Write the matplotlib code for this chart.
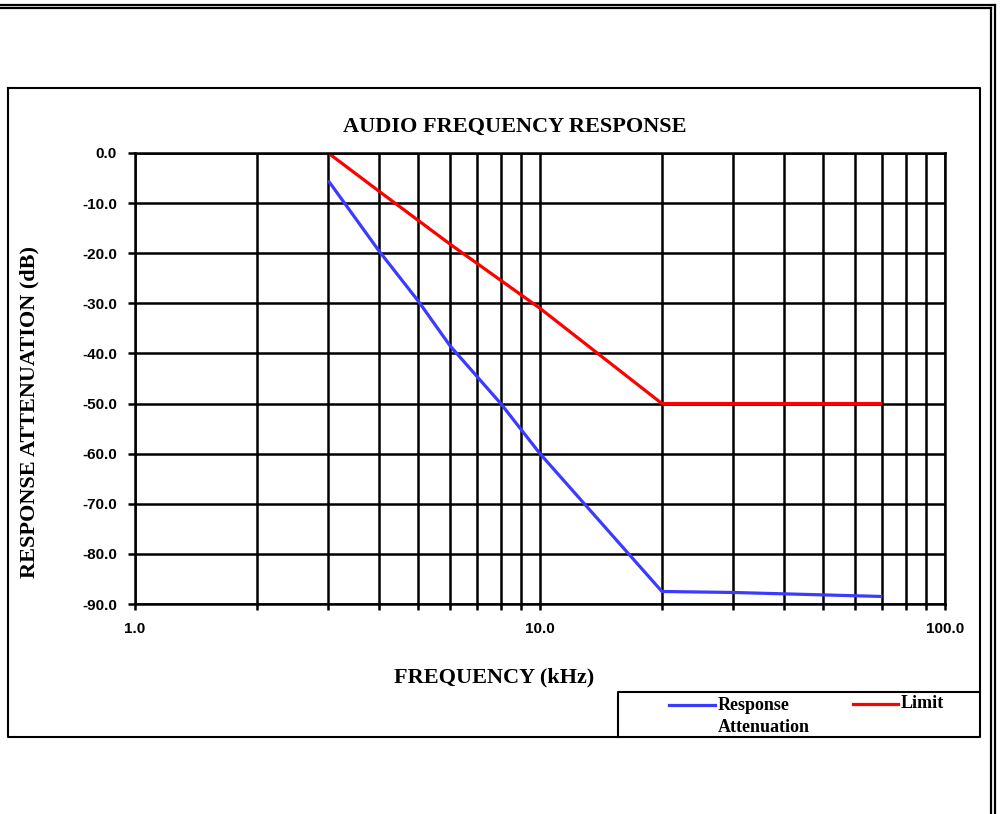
import matplotlib
matplotlib.use("Agg")
import matplotlib.pyplot as plt
from matplotlib.lines import Line2D
from matplotlib.ticker import FixedLocator, FixedFormatter, NullFormatter
from matplotlib import font_manager

# values
freq_response = [3, 4, 5, 6, 8, 10, 20, 30, 70]
atten_response = [-5.5, -19.5, -29.5, -38.5, -50.0, -60.0, -87.5, -87.7, -88.5]
freq_limit = [3, 4, 6, 10, 20, 70]
atten_limit = [0.0, -7.6, -18.2, -31.0, -50.0, -50.0]

y_ticks = [0, -10, -20, -30, -40, -50, -60, -70, -80, -90]
x_major = [1, 10, 100]
x_major_labels = ["1.0", "10.0", "100.0"]
x_minor = [2, 3, 4, 5, 6, 7, 8, 9, 20, 30, 40, 50, 60, 70, 80, 90]

W, H = 1001, 814
plt.rcParams['axes.unicode_minus'] = False

names = {f.name for f in font_manager.fontManager.ttflist}
tick_font = ["Liberation Sans Narrow", "Liberation Sans"] if "Liberation Sans Narrow" in names else ["Liberation Sans"]
serif = ["Liberation Serif", "DejaVu Serif"]


def fx(x):
    return x / W


def fy(y):
    return 1 - y / H


fig = plt.figure(figsize=(W / 100, H / 100), dpi=100)

# page double border (top and right)
for yy, xr in [(5, 995), (8, 991)]:
    fig.add_artist(Line2D([0, fx(xr)], [fy(yy), fy(yy)], color="black", lw=1.6))
for xx, yt in [(995, 5), (991, 8)]:
    fig.add_artist(Line2D([fx(xx), fx(xx)], [fy(yt), 0], color="black", lw=1.6))

# chart box
fig.add_artist(Line2D([fx(8), fx(980), fx(980), fx(8), fx(8)],
                      [fy(88), fy(88), fy(737), fy(737), fy(88)],
                      color="black", lw=1.5))
# legend box (clipped at bottom)
fig.add_artist(Line2D([fx(618), fx(618), fx(980)],
                      [fy(737), fy(692), fy(692)], color="black", lw=1.5))

ax = fig.add_axes([fx(135), fy(604), fx(945) - fx(135), fy(153) - fy(604)])
ax.set_xscale("log")
ax.set_xlim(1, 100)
ax.set_ylim(-90, 0)

ax.plot(freq_response, atten_response, color="#3b3bff", lw=2.3, solid_capstyle="butt")
ax.plot(freq_limit, atten_limit, color="#ff0000", lw=2.3, solid_capstyle="butt")

ax.xaxis.set_major_locator(FixedLocator(x_major))
ax.xaxis.set_major_formatter(FixedFormatter(x_major_labels))
ax.xaxis.set_minor_locator(FixedLocator(x_minor))
ax.xaxis.set_minor_formatter(NullFormatter())
ax.yaxis.set_major_locator(FixedLocator(y_ticks))
ax.set_yticklabels(["%.1f" % v for v in y_ticks])

ax.grid(True, which="both", axis="x", color="black", lw=1.8)
ax.grid(True, which="major", axis="y", color="black", lw=1.8)
ax.set_axisbelow(True)
for s in ax.spines.values():
    s.set_linewidth(1.8)

ax.tick_params(axis="x", which="both", direction="out", length=4, width=1.8, pad=9)
ax.tick_params(axis="y", which="major", direction="out", length=5, width=1.8, pad=8)
for lab in ax.get_xticklabels() + ax.get_yticklabels():
    lab.set_fontfamily(tick_font)
    lab.set_fontweight("bold")
    lab.set_fontsize(11)

fig.text(fx(515), fy(127), "AUDIO FREQUENCY RESPONSE", ha="center", va="center",
         family=serif, weight="bold", fontsize=16)
fig.text(fx(494), fy(677), "FREQUENCY (kHz)", ha="center", va="center",
         family=serif, weight="bold", fontsize=16)
fig.text(fx(29), fy(412), "RESPONSE ATTENUATION (dB)", ha="center", va="center",
         rotation=90, family=serif, weight="bold", fontsize=16)

# legend
fig.add_artist(Line2D([fx(669), fx(715)], [fy(705), fy(705)], color="#3b3bff", lw=2.3))
fig.text(fx(718), fy(706), "Response", ha="left", va="center", family=serif,
         weight="bold", fontsize=13)
fig.text(fx(718), fy(727), "Attenuation", ha="left", va="center", family=serif,
         weight="bold", fontsize=13)
fig.add_artist(Line2D([fx(853), fx(898)], [fy(704), fy(704)], color="#ff0000", lw=2.3))
fig.text(fx(901), fy(704), "Limit", ha="left", va="center", family=serif,
         weight="bold", fontsize=13)

fig.savefig("out.png", dpi=100)
